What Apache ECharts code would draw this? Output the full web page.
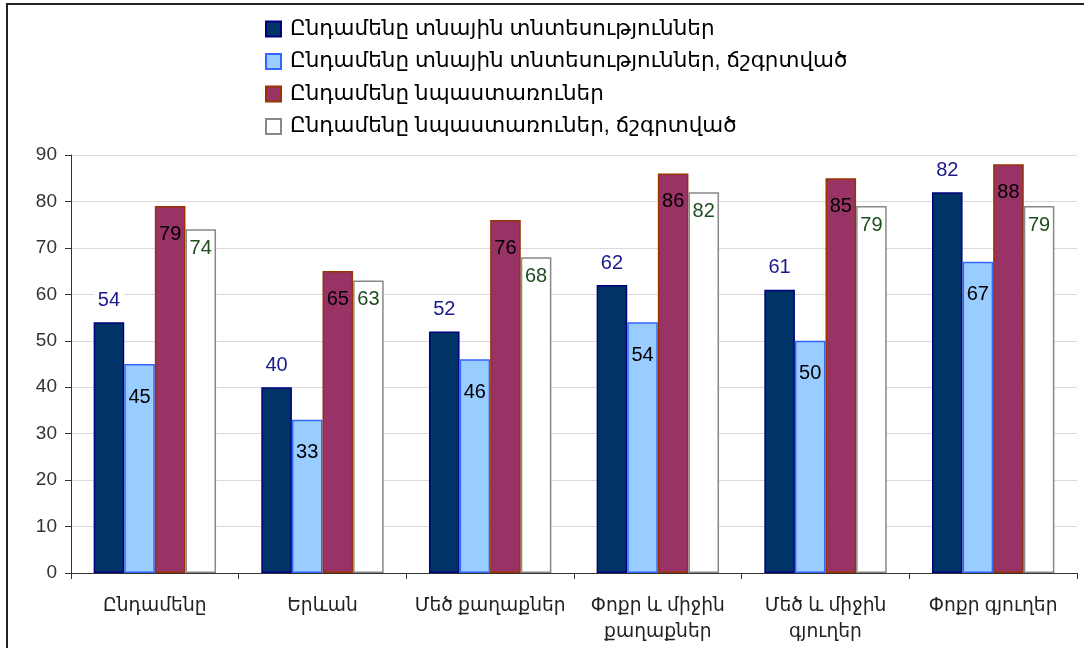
<!DOCTYPE html>
<html>
<head>
<meta charset="utf-8">
<script src="https://cdn.jsdelivr.net/npm/echarts@6/dist/echarts.min.js"></script>
<style>
html,body{margin:0;padding:0;background:#fff;}
#chart{width:1084px;height:648px;}
</style>
</head>
<body>
<div id="chart"></div>
<script>
const categories = ['Ընդամենը', 'Երևան', 'Մեծ քաղաքներ', 'Փոքր և միջին\nքաղաքներ', 'Մեծ և միջին\nգյուղեր', 'Փոքր գյուղեր'];
const seriesNames = [
  'Ընդամենը տնային տնտեսություններ',
  'Ընդամենը տնային տնտեսություններ, ճշգրտված',
  'Ընդամենը նպաստառուներ',
  'Ընդամենը նպաստառուներ, ճշգրտված'
];
const householdsTotal = [54, 40, 52, 62, 61, 82];
const householdsAdjusted = [45, 33, 46, 54, 50, 67];
const beneficiariesTotal = [79, 65, 76, 86, 85, 88];
const beneficiariesAdjusted = [74, 63, 68, 82, 79, 79];
const yTicks = {min: 0, max: 90, interval: 10};

const FONT = '"Liberation Sans", "DejaVu Sans", sans-serif';

const chart = echarts.init(document.getElementById('chart'));

function bar(name, data, fill, border, label) {
  return {
    name: name,
    type: 'bar',
    data: data,
    barGap: '0%',
    barCategoryGap: '27%',
    itemStyle: {color: fill, borderColor: border, borderWidth: 1.5},
    label: Object.assign({show: true, fontFamily: FONT, fontSize: 20}, label),
    emphasis: {disabled: true}
  };
}

chart.setOption({
  animation: false,
  textStyle: {fontFamily: FONT},
  graphic: [{
    type: 'rect',
    shape: {x: 7, y: 4, width: 1100, height: 700},
    style: {fill: 'none', stroke: '#222', lineWidth: 2},
    silent: true
  }],
  legend: {
    orient: 'vertical',
    left: 260,
    top: 13,
    itemWidth: 15,
    itemHeight: 15,
    itemGap: 10.5,
    icon: 'rect',
    textStyle: {fontFamily: FONT, fontSize: 21.5, lineHeight: 22, color: '#000', padding: [0, 0, 0, 4]},
    data: seriesNames
  },
  grid: {left: 71, right: 7, top: 155, bottom: 75, containLabel: false},
  xAxis: {
    type: 'category',
    data: categories,
    axisLine: {lineStyle: {color: '#333', width: 1}},
    axisTick: {show: true, length: 6, lineStyle: {color: '#333'}},
    axisLabel: {fontFamily: FONT, fontSize: 18.7, color: '#222', margin: 20, lineHeight: 26, interval: 0}
  },
  yAxis: {
    type: 'value',
    min: yTicks.min,
    max: yTicks.max,
    interval: yTicks.interval,
    axisLine: {show: true, lineStyle: {color: '#333', width: 1}},
    axisTick: {show: true, length: 6, lineStyle: {color: '#333'}},
    axisLabel: {fontFamily: FONT, fontSize: 19, color: '#333', margin: 14},
    splitLine: {lineStyle: {color: '#d9d9d9', width: 1}}
  },
  series: [
    bar(seriesNames[0], householdsTotal, '#003366', '#000080',
      {position: 'top', distance: 10, color: '#1a1a8c', backgroundColor: '#fff', padding: [2, 4]}),
    bar(seriesNames[1], householdsAdjusted, '#99ccff', '#3366ff',
      {position: 'insideTop', distance: 23, color: '#000'}),
    bar(seriesNames[2], beneficiariesTotal, '#993366', '#993300',
      {position: 'insideTop', distance: 18, color: '#000'}),
    bar(seriesNames[3], beneficiariesAdjusted, '#ffffff', '#888888',
      {position: 'insideTop', distance: 9, color: '#1e4d1e'})
  ]
});
</script>
</body>
</html>
